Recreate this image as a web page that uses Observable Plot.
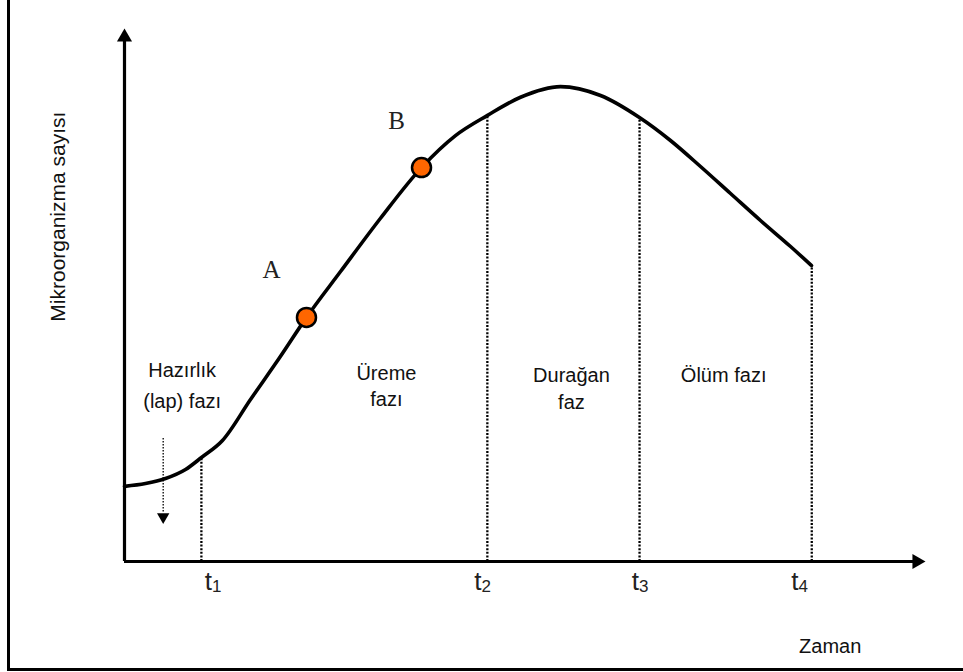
<!DOCTYPE html>
<html>
<head>
<meta charset="utf-8">
<script src="https://cdn.jsdelivr.net/npm/d3@7"></script>
<script src="https://cdn.jsdelivr.net/npm/@observablehq/plot@0.6"></script>
<style>
  html, body { margin: 0; padding: 0; background: #fff; overflow: hidden; }
  #wrap { position: relative; width: 963px; height: 672px; }
  #border { position: absolute; left: 7px; top: -10px; width: 1000px; height: 678px;
            border-left: 3px solid #000; border-bottom: 3px solid #000; pointer-events: none; }
</style>
</head>
<body>
<div id="wrap"><div id="border"></div></div>
<script>
// Growth curve (time, microorganism count), arbitrary units 0–100
const curveTime  = [0, 2.62, 5.12, 7.62, 9.61, 12.23, 15.73, 19.48, 22.72, 26.97, 31.96, 37.08, 41.32, 45.32, 49.44, 54.43, 59.43, 64.29, 68.16, 71.91, 75.66, 79.40, 83.15, 85.77];
const curveCount = [14.1, 14.63, 15.57, 17.26, 19.51, 22.7, 30.4, 38.5, 45.8, 54.4, 64.4, 73.9, 79.9, 83.7, 87.1, 89.1, 87.43, 83.3, 78.99, 74.11, 69.04, 63.98, 59.10, 55.53];

// Phase boundaries t1..t4
const tickNames     = ["t1", "t2", "t3", "t4"];
const tickTimes     = [9.6, 45.3, 64.3, 85.8];
const tickTops      = [19.5, 83.6, 83.3, 55.5];
const tickLabelTime = [11.05, 44.7, 64.36, 84.27];

// Highlighted points A, B
const pointNames = ["A", "B"];
const pointTime  = [22.72, 37.08];
const pointCount = [45.8, 73.9];
const pointLabelTime  = [18.35, 33.96];
const pointLabelCount = [54.6, 82.7];

// Phase labels
const phaseNames = ["Hazırlık\n(lap) fazı", "Üreme\nfazı", "Durağan\nfaz", "Ölüm fazı"];
const phaseTime  = [7.2, 32.7, 55.8, 74.8];
const phaseCount = [33.6, 33.2, 32.7, 35.3];
const phaseLineHeight = [1.55, 1.3, 1.35, 1.3];

// Lag-phase dotted arrow
const lagArrowTime = 4.83;
const lagArrowFrom = 23.1;
const lagArrowTo = 9.0;
const lagArrowTip = 8.4;

const yTitle = "Mikroorganizma sayısı";
const xTitle = "Zaman";

const curve = curveTime.map((t, i) => ({t, n: curveCount[i]}));
const ticks = tickNames.map((name, i) => ({name, t: tickTimes[i], top: tickTops[i], lt: tickLabelTime[i]}));
const points = pointNames.map((name, i) => ({name, t: pointTime[i], n: pointCount[i], lt: pointLabelTime[i], ln: pointLabelCount[i]}));
const phases = phaseNames.map((name, i) => ({name, t: phaseTime[i], n: phaseCount[i], lh: phaseLineHeight[i]}));

const sans = "'Liberation Sans', Arial, sans-serif";
const serif = "'Liberation Serif', 'Times New Roman', serif";

const chart = Plot.plot({
  width: 963,
  height: 672,
  marginLeft: 124,
  marginRight: 38,
  marginTop: 28,
  marginBottom: 111,
  x: {domain: [0, 100], axis: null},
  y: {domain: [0, 100], axis: null},
  style: {background: "#fff", overflow: "visible"},
  marks: [
    // phase boundary dotted lines
    Plot.ruleX(ticks, {x: "t", y1: 0, y2: "top", stroke: "#000", strokeWidth: 2.3, strokeDasharray: "2,1.6"}),
    // lag-phase dotted arrow
    Plot.ruleX([lagArrowTime], {x: d => d, y1: lagArrowFrom, y2: lagArrowTo, stroke: "#000", strokeWidth: 1.3, strokeDasharray: "1.5,1.5"}),
    Plot.dot([lagArrowTime], {x: d => d, y: lagArrowTip, symbol: "triangle", rotate: 180, r: 4.6, fill: "#000", stroke: "none"}),
    // axes
    Plot.ruleY([0], {x1: 0, x2: 98.6, stroke: "#000", strokeWidth: 3.2}),
    Plot.ruleX([0], {y1: 0, y2: 97.6, stroke: "#000", strokeWidth: 3.2}),
    Plot.dot([100], {x: d => d, y: 0, symbol: "triangle", rotate: 90, r: 5.6, dx: -8.7, fill: "#000", stroke: "none"}),
    Plot.dot([100], {x: 0, y: d => d, symbol: "triangle", r: 5.6, dy: 8.7, fill: "#000", stroke: "none"}),
    // growth curve
    Plot.line(curve, {x: "t", y: "n", curve: "monotone-x", stroke: "#000", strokeWidth: 3.6}),
    // points A, B
    Plot.dot(points, {x: "t", y: "n", r: 9.5, fill: "#FF6600", stroke: "#000", strokeWidth: 2.5}),
    Plot.text(points, {x: "lt", y: "ln", text: "name", fontFamily: serif, fontSize: 25, fill: "#222"}),
    // phase labels
    ...phases.map(p => Plot.text([p], {x: "t", y: "n", text: "name", fontFamily: sans, fontSize: 20, lineHeight: p.lh, fill: "#111"})),
    // tick labels t1..t4
    Plot.text(ticks, {x: "lt", y: -5.44, text: "name", lineAnchor: "bottom", fontFamily: sans, fontSize: 26, fill: "#222"}),
    // axis titles
    Plot.text([xTitle], {x: 88.1, y: -17.26, text: d => d, lineAnchor: "bottom", fontFamily: sans, fontSize: 20, fill: "#111"}),
    Plot.text([yTitle], {x: -8.24, y: 64.7, text: d => d, rotate: -90, fontFamily: sans, fontSize: 21, fill: "#111"})
  ]
});

// subscripts on t labels
d3.select(chart).selectAll("text").each(function() {
  const s = this.textContent;
  if (/^t\d$/.test(s)) {
    const el = d3.select(this);
    el.text("t");
    el.append("tspan").attr("font-size", 17).attr("dy", 2).text(s[1]);
  }
});

document.getElementById("wrap").prepend(chart);
</script>
</body>
</html>
